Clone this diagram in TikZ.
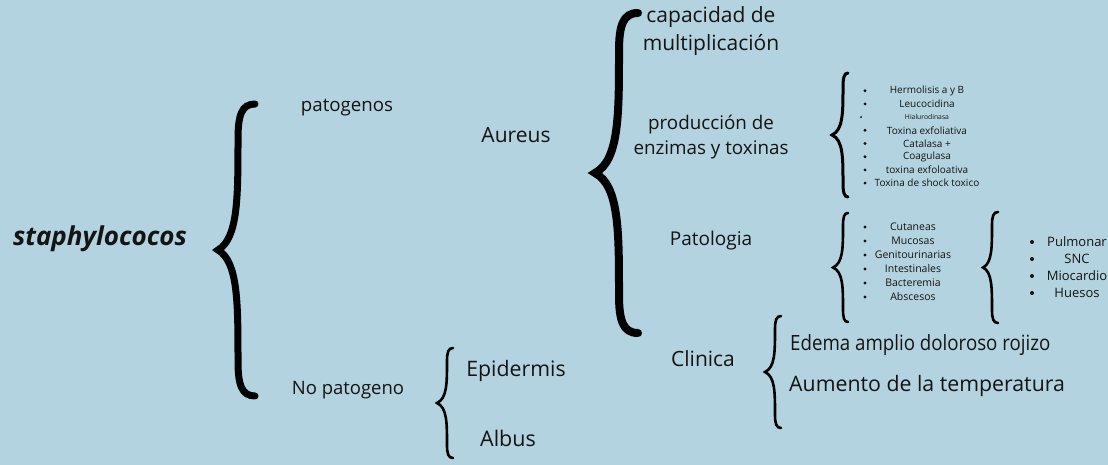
\documentclass[tikz,border=0pt]{standalone}
\usepackage{fontspec}
\setmainfont{Open Sans}
\definecolor{fondo}{RGB}{178,211,223}
\definecolor{tinta}{RGB}{20,20,20}
\newcommand{\fs}[1]{\fontsize{#1}{#1}\selectfont}
% llave: estilo, x del tallo, arriba, abajo, punta, rizo
\newcommand{\llave}[6]{%
  \pgfmathsetmacro{\lH}{#4-#3}
  \draw[#1] ({#2+#6},{#3})
    .. controls ({#2+0.2*#6},{#3}) and ({#2},{#3+0.04*\lH}) .. ({#2},{#3+0.12*\lH})
    .. controls ({#2},{#3+0.32*\lH}) and ({#2},{#3+0.46*\lH}) .. ({#2-#5},{#3+0.5*\lH})
    .. controls ({#2},{#3+0.54*\lH}) and ({#2},{#3+0.68*\lH}) .. ({#2},{#3+0.88*\lH})
    .. controls ({#2},{#3+0.96*\lH}) and ({#2+0.2*#6},{#4}) .. ({#2+#6},{#4});
}
\tikzset{
  gruesa/.style={line width=8pt, line cap=round, black},
  fina/.style={line width=2.6pt, line cap=round, black},
  texto/.style={inner sep=0pt, text=tinta, anchor=center},
  punto/.style={fill=tinta}
}
\begin{document}
\begin{tikzpicture}[x=1pt, y=-1pt]
  \useasboundingbox (0,0) rectangle (1108,465);
  \fill[fondo] (0,0) rectangle (1108,465);

  % llaves
  \llave{gruesa, line width=7pt}{238}{104}{396}{20}{17}
  \llave{gruesa}{619}{13}{333}{24}{19}
  \llave{fina, line width=3pt}{843}{73}{197}{11}{5}
  \llave{fina}{843}{213}{322}{10}{5}
  \llave{fina}{992}{212}{323}{9}{6}
  \llave{fina}{775}{316}{428}{10}{6}
  \llave{fina}{447}{348}{458}{10}{6}

  % textos
  \node[texto, font=\fs{26}\bfseries\itshape] (staph) at (100,239) {staphylococos};
  \node[texto, font=\fs{18.7}] (pat) at (347,108) {patogenos};
  \node[texto, font=\fs{18.5}] (nopat) at (348,390) {No patogeno};
  \node[texto, font=\fs{21}] (aureus) at (516,135) {Aureus};
  \node[texto, font=\fs{21.3}] (epid) at (516,371) {Epidermis};
  \node[texto, font=\fs{21.5}] (albus) at (508,438) {Albus};

  \node[texto, font=\fs{21}, align=center] (multi) at (711,31)
    {capacidad de\\[6pt]multiplicación};
  \node[texto, font=\fs{18.8}, align=center] (enzimas) at (711,137)
    {producción de\\[6pt]enzimas y toxinas};
  \node[texto, font=\fs{19}] (patologia) at (711,241) {Patologia};
  \node[texto, font=\fs{21}] (clinica) at (703,359) {Clinica};

  \node[texto, anchor=west, font=\fs{21}, xscale=0.89, transform shape]
    (edema) at (790,345) {Edema amplio doloroso rojizo};
  \node[texto, anchor=west, font=\fs{21.3}] (aumento) at (789,386)
    {Aumento de la temperatura};

  % listas
  \foreach \txt/\tam/\r [count=\i] in {Hermolisis a y B/10/1.6, Leucocidina/10/1.6,
      Hialurodinasa/6.8/1.1, Toxina exfoliativa/10/1.6, Catalasa +/10/1.6,
      Coagulasa/10/1.6, toxina exfoloativa/10/1.6, Toxina de shock toxico/10/1.6}
  {
    \node[texto, font=\fs{\tam}] (enz\i) at (927,{77.5+13.2*\i}) {\txt};
    \fill[punto] ({\ifnum\i=3 861\else 865\fi},{77.5+13.2*\i}) circle[radius=\r];
  }
  \foreach \txt [count=\i] in {Cutaneas, Mucosas, Genitourinarias,
      Intestinales, Bacteremia, Abscesos}
  {
    \node[texto, font=\fs{10.5}] (pat\i) at (913,{213+14*\i}) {\txt};
    \fill[punto] (865,{213+14*\i}) circle[radius=1.6];
  }
  \foreach \txt [count=\i] in {Pulmonar, SNC, Miocardio, Huesos}
  {
    \node[texto, font=\fs{13}] (org\i) at (1077,{225+17*\i}) {\txt};
    \fill[punto] (1032,{225+17*\i}) circle[radius=2];
  }
\end{tikzpicture}
\end{document}
